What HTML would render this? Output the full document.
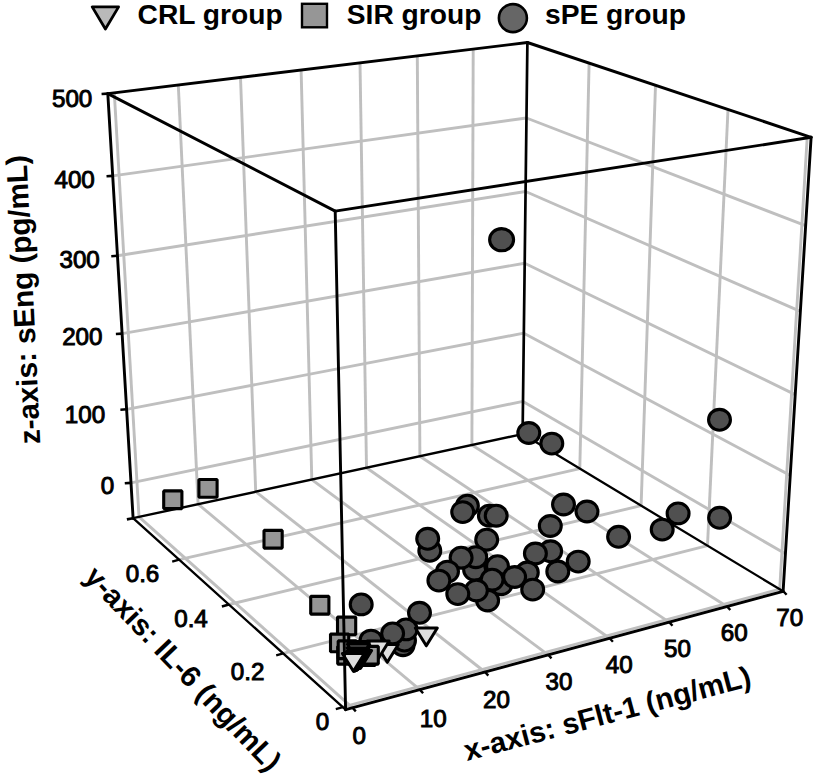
<!DOCTYPE html>
<html><head><meta charset="utf-8"><title>3D scatter</title>
<style>
html,body{margin:0;padding:0;background:#fff;}
body{width:815px;height:776px;overflow:hidden;}
svg{display:block;font-family:"Liberation Sans",sans-serif;}
text{fill:#000;}
</style></head><body>
<svg width="815" height="776" viewBox="0 0 815 776">
<rect width="815" height="776" fill="#fff"/>
<g id="grid">
<line x1="139.0" y1="516.9" x2="114.3" y2="92.8" stroke="#bfbfbf" stroke-width="2.9" stroke-linecap="butt"/>
<line x1="352.5" y1="707.8" x2="139.0" y2="516.9" stroke="#bfbfbf" stroke-width="2.9" stroke-linecap="butt"/>
<line x1="198.1" y1="504.1" x2="178.3" y2="85.0" stroke="#bfbfbf" stroke-width="2.9" stroke-linecap="butt"/>
<line x1="419.8" y1="689.6" x2="198.1" y2="504.1" stroke="#bfbfbf" stroke-width="2.9" stroke-linecap="butt"/>
<line x1="255.7" y1="491.7" x2="240.5" y2="77.4" stroke="#bfbfbf" stroke-width="2.9" stroke-linecap="butt"/>
<line x1="485.0" y1="672.0" x2="255.7" y2="491.7" stroke="#bfbfbf" stroke-width="2.9" stroke-linecap="butt"/>
<line x1="311.8" y1="479.6" x2="301.1" y2="70.0" stroke="#bfbfbf" stroke-width="2.9" stroke-linecap="butt"/>
<line x1="548.2" y1="654.8" x2="311.8" y2="479.6" stroke="#bfbfbf" stroke-width="2.9" stroke-linecap="butt"/>
<line x1="366.5" y1="467.8" x2="360.0" y2="62.9" stroke="#bfbfbf" stroke-width="2.9" stroke-linecap="butt"/>
<line x1="609.6" y1="638.2" x2="366.5" y2="467.8" stroke="#bfbfbf" stroke-width="2.9" stroke-linecap="butt"/>
<line x1="419.9" y1="456.3" x2="417.3" y2="55.9" stroke="#bfbfbf" stroke-width="2.9" stroke-linecap="butt"/>
<line x1="669.2" y1="622.1" x2="419.9" y2="456.3" stroke="#bfbfbf" stroke-width="2.9" stroke-linecap="butt"/>
<line x1="471.9" y1="445.0" x2="473.2" y2="49.1" stroke="#bfbfbf" stroke-width="2.9" stroke-linecap="butt"/>
<line x1="727.0" y1="606.4" x2="471.9" y2="445.0" stroke="#bfbfbf" stroke-width="2.9" stroke-linecap="butt"/>
<line x1="779.7" y1="589.2" x2="807.3" y2="136.0" stroke="#bfbfbf" stroke-width="2.9" stroke-linecap="butt"/>
<line x1="342.8" y1="707.1" x2="779.7" y2="589.2" stroke="#bfbfbf" stroke-width="2.9" stroke-linecap="butt"/>
<line x1="707.5" y1="545.6" x2="728.0" y2="109.5" stroke="#bfbfbf" stroke-width="2.9" stroke-linecap="butt"/>
<line x1="283.2" y1="653.4" x2="707.5" y2="545.6" stroke="#bfbfbf" stroke-width="2.9" stroke-linecap="butt"/>
<line x1="641.1" y1="505.6" x2="655.5" y2="85.3" stroke="#bfbfbf" stroke-width="2.9" stroke-linecap="butt"/>
<line x1="228.9" y1="604.5" x2="641.1" y2="505.6" stroke="#bfbfbf" stroke-width="2.9" stroke-linecap="butt"/>
<line x1="579.8" y1="468.6" x2="589.1" y2="63.1" stroke="#bfbfbf" stroke-width="2.9" stroke-linecap="butt"/>
<line x1="179.2" y1="559.7" x2="579.8" y2="468.6" stroke="#bfbfbf" stroke-width="2.9" stroke-linecap="butt"/>
<line x1="131.0" y1="482.9" x2="523.0" y2="401.4" stroke="#bfbfbf" stroke-width="2.9" stroke-linecap="butt"/>
<line x1="785.4" y1="553.8" x2="523.0" y2="401.4" stroke="#bfbfbf" stroke-width="2.9" stroke-linecap="butt"/>
<line x1="126.6" y1="409.3" x2="523.8" y2="333.2" stroke="#bfbfbf" stroke-width="2.9" stroke-linecap="butt"/>
<line x1="790.2" y1="475.4" x2="523.8" y2="333.2" stroke="#bfbfbf" stroke-width="2.9" stroke-linecap="butt"/>
<line x1="122.1" y1="333.6" x2="524.7" y2="263.2" stroke="#bfbfbf" stroke-width="2.9" stroke-linecap="butt"/>
<line x1="795.2" y1="394.6" x2="524.7" y2="263.2" stroke="#bfbfbf" stroke-width="2.9" stroke-linecap="butt"/>
<line x1="117.5" y1="255.8" x2="525.6" y2="191.5" stroke="#bfbfbf" stroke-width="2.9" stroke-linecap="butt"/>
<line x1="800.3" y1="311.4" x2="525.6" y2="191.5" stroke="#bfbfbf" stroke-width="2.9" stroke-linecap="butt"/>
<line x1="112.7" y1="175.9" x2="526.5" y2="118.0" stroke="#bfbfbf" stroke-width="2.9" stroke-linecap="butt"/>
<line x1="805.6" y1="225.7" x2="526.5" y2="118.0" stroke="#bfbfbf" stroke-width="2.9" stroke-linecap="butt"/>
</g>
<g id="backedges">
<line x1="133.1" y1="518.2" x2="522.6" y2="434.1" stroke="#000" stroke-width="2.4" stroke-linecap="round"/>
<line x1="522.6" y1="434.1" x2="783.1" y2="591.3" stroke="#000" stroke-width="2.3" stroke-linecap="round"/>
<line x1="522.6" y1="434.1" x2="527.4" y2="42.5" stroke="#000" stroke-width="2.7" stroke-linecap="round"/>
</g>
<g id="markers">
<rect x="163.7" y="490.9" width="18.2" height="17.7" fill="#969696" stroke="#000" stroke-width="3.1" stroke-linejoin="bevel"/>
<rect x="198.9" y="479.5" width="18.2" height="17.7" fill="#969696" stroke="#000" stroke-width="3.1" stroke-linejoin="bevel"/>
<rect x="264.0" y="530.4" width="18.2" height="17.7" fill="#969696" stroke="#000" stroke-width="3.1" stroke-linejoin="bevel"/>
<rect x="310.7" y="596.4" width="18.2" height="17.7" fill="#969696" stroke="#000" stroke-width="3.1" stroke-linejoin="bevel"/>
<ellipse cx="501.6" cy="239.7" rx="12.0" ry="11.1" fill="#505050" stroke="#000" stroke-width="3.1"/>
<ellipse cx="719.5" cy="419.8" rx="10.95" ry="10.4" fill="#505050" stroke="#000" stroke-width="3.1"/>
<ellipse cx="528.8" cy="433.0" rx="10.95" ry="10.4" fill="#505050" stroke="#000" stroke-width="3.1"/>
<ellipse cx="551.8" cy="443.6" rx="10.95" ry="10.4" fill="#505050" stroke="#000" stroke-width="3.1"/>
<ellipse cx="719.6" cy="517.8" rx="10.95" ry="10.4" fill="#505050" stroke="#000" stroke-width="3.1"/>
<ellipse cx="662.2" cy="529.6" rx="10.95" ry="10.4" fill="#505050" stroke="#000" stroke-width="3.1"/>
<ellipse cx="678.1" cy="513.4" rx="10.95" ry="10.4" fill="#505050" stroke="#000" stroke-width="3.1"/>
<ellipse cx="618.6" cy="536.8" rx="10.95" ry="10.4" fill="#505050" stroke="#000" stroke-width="3.1"/>
<ellipse cx="563.5" cy="504.5" rx="10.95" ry="10.4" fill="#505050" stroke="#000" stroke-width="3.1"/>
<ellipse cx="587.0" cy="511.5" rx="10.95" ry="10.4" fill="#505050" stroke="#000" stroke-width="3.1"/>
<ellipse cx="550.3" cy="526.0" rx="10.95" ry="10.4" fill="#505050" stroke="#000" stroke-width="3.1"/>
<ellipse cx="550.6" cy="551.3" rx="10.95" ry="10.4" fill="#505050" stroke="#000" stroke-width="3.1"/>
<ellipse cx="535.4" cy="553.5" rx="10.95" ry="10.4" fill="#505050" stroke="#000" stroke-width="3.1"/>
<ellipse cx="578.2" cy="561.6" rx="10.95" ry="10.4" fill="#505050" stroke="#000" stroke-width="3.1"/>
<ellipse cx="557.8" cy="571.5" rx="10.95" ry="10.4" fill="#505050" stroke="#000" stroke-width="3.1"/>
<ellipse cx="467.4" cy="505.7" rx="10.95" ry="10.4" fill="#505050" stroke="#000" stroke-width="3.1"/>
<ellipse cx="462.7" cy="512.1" rx="10.95" ry="10.4" fill="#505050" stroke="#000" stroke-width="3.1"/>
<ellipse cx="489.4" cy="515.7" rx="10.95" ry="10.4" fill="#505050" stroke="#000" stroke-width="3.1"/>
<ellipse cx="496.2" cy="515.7" rx="10.95" ry="10.4" fill="#505050" stroke="#000" stroke-width="3.1"/>
<ellipse cx="429.8" cy="550.8" rx="10.95" ry="10.4" fill="#505050" stroke="#000" stroke-width="3.1"/>
<ellipse cx="427.7" cy="538.8" rx="10.95" ry="10.4" fill="#505050" stroke="#000" stroke-width="3.1"/>
<ellipse cx="486.7" cy="539.7" rx="10.95" ry="10.4" fill="#505050" stroke="#000" stroke-width="3.1"/>
<ellipse cx="474.6" cy="569.8" rx="10.95" ry="10.4" fill="#505050" stroke="#000" stroke-width="3.1"/>
<ellipse cx="475.8" cy="557.2" rx="10.95" ry="10.4" fill="#505050" stroke="#000" stroke-width="3.1"/>
<ellipse cx="461.1" cy="557.7" rx="10.95" ry="10.4" fill="#505050" stroke="#000" stroke-width="3.1"/>
<ellipse cx="447.5" cy="571.6" rx="10.95" ry="10.4" fill="#505050" stroke="#000" stroke-width="3.1"/>
<ellipse cx="438.9" cy="580.6" rx="10.95" ry="10.4" fill="#505050" stroke="#000" stroke-width="3.1"/>
<ellipse cx="497.5" cy="566.2" rx="10.95" ry="10.4" fill="#505050" stroke="#000" stroke-width="3.1"/>
<ellipse cx="501.1" cy="584.2" rx="10.95" ry="10.4" fill="#505050" stroke="#000" stroke-width="3.1"/>
<ellipse cx="492.1" cy="579.7" rx="10.95" ry="10.4" fill="#505050" stroke="#000" stroke-width="3.1"/>
<ellipse cx="527.3" cy="572.5" rx="10.95" ry="10.4" fill="#505050" stroke="#000" stroke-width="3.1"/>
<ellipse cx="514.6" cy="577.0" rx="10.95" ry="10.4" fill="#505050" stroke="#000" stroke-width="3.1"/>
<ellipse cx="487.6" cy="600.5" rx="10.95" ry="10.4" fill="#505050" stroke="#000" stroke-width="3.1"/>
<ellipse cx="476.4" cy="590.5" rx="10.95" ry="10.4" fill="#505050" stroke="#000" stroke-width="3.1"/>
<ellipse cx="457.8" cy="594.1" rx="10.95" ry="10.4" fill="#505050" stroke="#000" stroke-width="3.1"/>
<ellipse cx="532.7" cy="589.6" rx="10.95" ry="10.4" fill="#505050" stroke="#000" stroke-width="3.1"/>
<ellipse cx="361.2" cy="604.4" rx="10.95" ry="10.4" fill="#505050" stroke="#000" stroke-width="3.1"/>
<ellipse cx="371.0" cy="640.6" rx="10.95" ry="10.4" fill="#505050" stroke="#000" stroke-width="3.1"/>
<ellipse cx="403.0" cy="645.2" rx="10.95" ry="10.4" fill="#505050" stroke="#000" stroke-width="3.1"/>
<ellipse cx="404.5" cy="640.6" rx="10.95" ry="10.4" fill="#505050" stroke="#000" stroke-width="3.1"/>
<ellipse cx="406.1" cy="629.4" rx="10.95" ry="10.4" fill="#505050" stroke="#000" stroke-width="3.1"/>
<ellipse cx="392.6" cy="633.4" rx="10.95" ry="10.4" fill="#505050" stroke="#000" stroke-width="3.1"/>
<ellipse cx="419.5" cy="612.8" rx="10.95" ry="10.4" fill="#505050" stroke="#000" stroke-width="3.1"/>
<rect x="337.5" y="617.1" width="18.2" height="17.7" fill="#969696" stroke="#000" stroke-width="3.1" stroke-linejoin="bevel"/>
<rect x="330.5" y="634.1" width="18.2" height="17.7" fill="#969696" stroke="#000" stroke-width="3.1" stroke-linejoin="bevel"/>
<rect x="337.7" y="646.4" width="18.2" height="17.7" fill="#969696" stroke="#000" stroke-width="3.1" stroke-linejoin="bevel"/>
<rect x="338.2" y="640.9" width="18.2" height="17.7" fill="#969696" stroke="#000" stroke-width="3.1" stroke-linejoin="bevel"/>
<path d="M415.3 628.0H437.3L426.3 645.8Z" fill="#dedede" stroke="#000" stroke-width="3.0" stroke-linejoin="round"/>
<path d="M376.3 644.5H398.3L387.3 662.3Z" fill="#dedede" stroke="#000" stroke-width="3.0" stroke-linejoin="round"/>
<path d="M367.2 641.0H389.2L378.2 658.8Z" fill="#dedede" stroke="#000" stroke-width="3.0" stroke-linejoin="round"/>
<rect x="356.9" y="647.8" width="18.2" height="17.7" fill="#969696" stroke="#000" stroke-width="3.1" stroke-linejoin="bevel"/>
<rect x="360.1" y="646.4" width="18.2" height="17.7" fill="#969696" stroke="#000" stroke-width="3.1" stroke-linejoin="bevel"/>
<path d="M347.5 641.4H369.5L358.5 659.2Z" fill="#dedede" stroke="#000" stroke-width="3.0" stroke-linejoin="round"/>
<path d="M347.3 644.3H369.3L358.3 662.1Z" fill="#dedede" stroke="#000" stroke-width="3.0" stroke-linejoin="round"/>
<path d="M347.0 647.8H369.0L358.0 665.6Z" fill="#dedede" stroke="#000" stroke-width="3.0" stroke-linejoin="round"/>
<path d="M349.6 650.4H371.6L360.6 668.2Z" fill="#dedede" stroke="#000" stroke-width="3.0" stroke-linejoin="round"/>
<path d="M348.8 650.7H370.8L359.8 668.5Z" fill="#dedede" stroke="#000" stroke-width="3.0" stroke-linejoin="round"/>
<path d="M348.0 650.9H370.0L359.0 668.7Z" fill="#dedede" stroke="#000" stroke-width="3.0" stroke-linejoin="round"/>
<path d="M347.3 651.0H369.3L358.3 668.8Z" fill="#dedede" stroke="#000" stroke-width="3.0" stroke-linejoin="round"/>
<path d="M346.6 651.8H368.6L357.6 669.6Z" fill="#dedede" stroke="#000" stroke-width="3.0" stroke-linejoin="round"/>
<path d="M345.9 652.3H367.9L356.9 670.1Z" fill="#dedede" stroke="#000" stroke-width="3.0" stroke-linejoin="round"/>
<path d="M345.2 652.7H367.2L356.2 670.5Z" fill="#dedede" stroke="#000" stroke-width="3.0" stroke-linejoin="round"/>
<path d="M344.5 653.0H366.5L355.5 670.8Z" fill="#dedede" stroke="#000" stroke-width="3.0" stroke-linejoin="round"/>
<path d="M343.8 653.2H365.8L354.8 671.0Z" fill="#dedede" stroke="#000" stroke-width="3.0" stroke-linejoin="round"/>
<path d="M343.1 653.4H365.1L354.1 671.2Z" fill="#dedede" stroke="#000" stroke-width="3.0" stroke-linejoin="round"/>
<path d="M342.4 653.5H364.4L353.4 671.3Z" fill="#dedede" stroke="#000" stroke-width="3.0" stroke-linejoin="round"/>
</g>
<g id="frontedges">
<line x1="107.8" y1="93.6" x2="527.4" y2="42.5" stroke="#000" stroke-width="2.9" stroke-linecap="round"/>
<line x1="527.4" y1="42.5" x2="811.1" y2="137.3" stroke="#000" stroke-width="2.9" stroke-linecap="round"/>
<line x1="811.1" y1="137.3" x2="335.2" y2="211.1" stroke="#000" stroke-width="2.9" stroke-linecap="round"/>
<line x1="335.2" y1="211.1" x2="107.8" y2="93.6" stroke="#000" stroke-width="2.9" stroke-linecap="round"/>
<line x1="133.1" y1="518.2" x2="107.8" y2="93.6" stroke="#000" stroke-width="2.9" stroke-linecap="round"/>
<line x1="345.6" y1="709.7" x2="335.2" y2="211.1" stroke="#000" stroke-width="2.9" stroke-linecap="round"/>
<line x1="783.1" y1="591.3" x2="811.1" y2="137.3" stroke="#000" stroke-width="2.9" stroke-linecap="round"/>
<line x1="345.6" y1="709.7" x2="133.1" y2="518.2" stroke="#000" stroke-width="2.3" stroke-linecap="round"/>
<line x1="345.6" y1="709.7" x2="783.1" y2="591.3" stroke="#000" stroke-width="2.9" stroke-linecap="round"/>
<line x1="131.0" y1="482.9" x2="124.8" y2="483.3" stroke="#000" stroke-width="2.6" stroke-linecap="butt"/>
<line x1="126.6" y1="409.3" x2="120.4" y2="409.7" stroke="#000" stroke-width="2.6" stroke-linecap="butt"/>
<line x1="122.1" y1="333.6" x2="115.9" y2="334.0" stroke="#000" stroke-width="2.6" stroke-linecap="butt"/>
<line x1="117.5" y1="255.8" x2="111.3" y2="256.2" stroke="#000" stroke-width="2.6" stroke-linecap="butt"/>
<line x1="112.7" y1="175.9" x2="106.5" y2="176.3" stroke="#000" stroke-width="2.6" stroke-linecap="butt"/>
<line x1="107.8" y1="93.6" x2="101.6" y2="94.0" stroke="#000" stroke-width="2.6" stroke-linecap="butt"/>
<line x1="133.1" y1="518.2" x2="126.9" y2="519.4" stroke="#000" stroke-width="2.6" stroke-linecap="butt"/>
<line x1="342.8" y1="707.1" x2="335.8" y2="709.1" stroke="#000" stroke-width="2.4" stroke-linecap="butt"/>
<line x1="283.2" y1="653.4" x2="276.2" y2="655.4" stroke="#000" stroke-width="2.4" stroke-linecap="butt"/>
<line x1="228.9" y1="604.5" x2="221.9" y2="606.5" stroke="#000" stroke-width="2.4" stroke-linecap="butt"/>
<line x1="179.2" y1="559.7" x2="172.2" y2="561.7" stroke="#000" stroke-width="2.4" stroke-linecap="butt"/>
<line x1="352.5" y1="707.8" x2="355.8" y2="711.4" stroke="#000" stroke-width="2.4" stroke-linecap="butt"/>
<line x1="419.8" y1="689.6" x2="423.1" y2="693.2" stroke="#000" stroke-width="2.4" stroke-linecap="butt"/>
<line x1="485.0" y1="672.0" x2="488.3" y2="675.6" stroke="#000" stroke-width="2.4" stroke-linecap="butt"/>
<line x1="548.2" y1="654.8" x2="551.5" y2="658.4" stroke="#000" stroke-width="2.4" stroke-linecap="butt"/>
<line x1="609.6" y1="638.2" x2="612.9" y2="641.8" stroke="#000" stroke-width="2.4" stroke-linecap="butt"/>
<line x1="669.2" y1="622.1" x2="672.5" y2="625.7" stroke="#000" stroke-width="2.4" stroke-linecap="butt"/>
<line x1="727.0" y1="606.4" x2="730.3" y2="610.0" stroke="#000" stroke-width="2.4" stroke-linecap="butt"/>
<line x1="783.3" y1="591.2" x2="786.6" y2="594.8" stroke="#000" stroke-width="2.4" stroke-linecap="butt"/>
</g>
<g id="labels">
<text transform="translate(92.3,106.6) scale(0.975,1)" font-size="24.8" text-anchor="end" font-weight="normal" stroke="#000" stroke-width="1.0">500</text>
<text transform="translate(94.8,187.6) scale(0.975,1)" font-size="24.8" text-anchor="end" font-weight="normal" stroke="#000" stroke-width="1.0">400</text>
<text transform="translate(99.8,267.6) scale(0.975,1)" font-size="24.8" text-anchor="end" font-weight="normal" stroke="#000" stroke-width="1.0">300</text>
<text transform="translate(102.5,344.9) scale(0.975,1)" font-size="24.8" text-anchor="end" font-weight="normal" stroke="#000" stroke-width="1.0">200</text>
<text transform="translate(105.2,422.6) scale(0.975,1)" font-size="24.8" text-anchor="end" font-weight="normal" stroke="#000" stroke-width="1.0">100</text>
<text transform="translate(114.1,493.7) scale(0.975,1)" font-size="24.8" text-anchor="end" font-weight="normal" stroke="#000" stroke-width="1.0">0</text>
<text transform="translate(142.5,582.4) scale(0.975,1)" font-size="24.8" text-anchor="middle" font-weight="normal" stroke="#000" stroke-width="1.0">0.6</text>
<text transform="translate(191.0,627.1) scale(0.975,1)" font-size="24.8" text-anchor="middle" font-weight="normal" stroke="#000" stroke-width="1.0">0.4</text>
<text transform="translate(247.6,680.3) scale(0.975,1)" font-size="24.8" text-anchor="middle" font-weight="normal" stroke="#000" stroke-width="1.0">0.2</text>
<text transform="translate(322.5,730.1) scale(0.975,1)" font-size="24.8" text-anchor="middle" font-weight="normal" stroke="#000" stroke-width="1.0">0</text>
<text transform="translate(359.3,743.6) scale(0.975,1)" font-size="24.8" text-anchor="middle" font-weight="normal" stroke="#000" stroke-width="1.0">0</text>
<text transform="translate(433.2,727.0) scale(0.975,1)" font-size="24.8" text-anchor="middle" font-weight="normal" stroke="#000" stroke-width="1.0">10</text>
<text transform="translate(496.4,707.6) scale(0.975,1)" font-size="24.8" text-anchor="middle" font-weight="normal" stroke="#000" stroke-width="1.0">20</text>
<text transform="translate(559.0,690.2) scale(0.975,1)" font-size="24.8" text-anchor="middle" font-weight="normal" stroke="#000" stroke-width="1.0">30</text>
<text transform="translate(619.3,672.8) scale(0.975,1)" font-size="24.8" text-anchor="middle" font-weight="normal" stroke="#000" stroke-width="1.0">40</text>
<text transform="translate(677.5,656.8) scale(0.975,1)" font-size="24.8" text-anchor="middle" font-weight="normal" stroke="#000" stroke-width="1.0">50</text>
<text transform="translate(734.3,640.8) scale(0.975,1)" font-size="24.8" text-anchor="middle" font-weight="normal" stroke="#000" stroke-width="1.0">60</text>
<text transform="translate(789.8,625.6) scale(0.975,1)" font-size="24.8" text-anchor="middle" font-weight="normal" stroke="#000" stroke-width="1.0">70</text>
<text transform="translate(40.3,443.8) rotate(-92.75)" font-size="29.6" text-anchor="start" font-weight="bold" >z-axis: sEng (pg/mL)</text>
<text transform="translate(467.0,761.0) rotate(-14.8)" font-size="29.4" text-anchor="start" font-weight="bold" >x-axis: sFlt-1 (ng/mL)</text>
<text transform="translate(83.0,578.0) rotate(46.4)" font-size="29.4" text-anchor="start" font-weight="bold" >y-axis: IL-6 (ng/mL)</text>
<path d="M92.2 6.9H118.6L105.4 29.0Z" fill="#b9b9b9" stroke="#000" stroke-width="2.8" stroke-linejoin="round"/>
<text transform="translate(137.6,24.2)" font-size="28.2" text-anchor="start" font-weight="bold" >CRL group</text>
<rect x="302" y="3.8" width="25" height="23.5" fill="#969696" stroke="#000" stroke-width="2.4"/>
<text transform="translate(346.8,24.2)" font-size="28.2" text-anchor="start" font-weight="bold" >SIR group</text>
<circle cx="512.9" cy="18.1" r="14.0" fill="#666" stroke="#000" stroke-width="2.6"/>
<text transform="translate(545.0,24.2)" font-size="28.2" text-anchor="start" font-weight="bold" >sPE group</text>
</g>
</svg>
</body></html>
